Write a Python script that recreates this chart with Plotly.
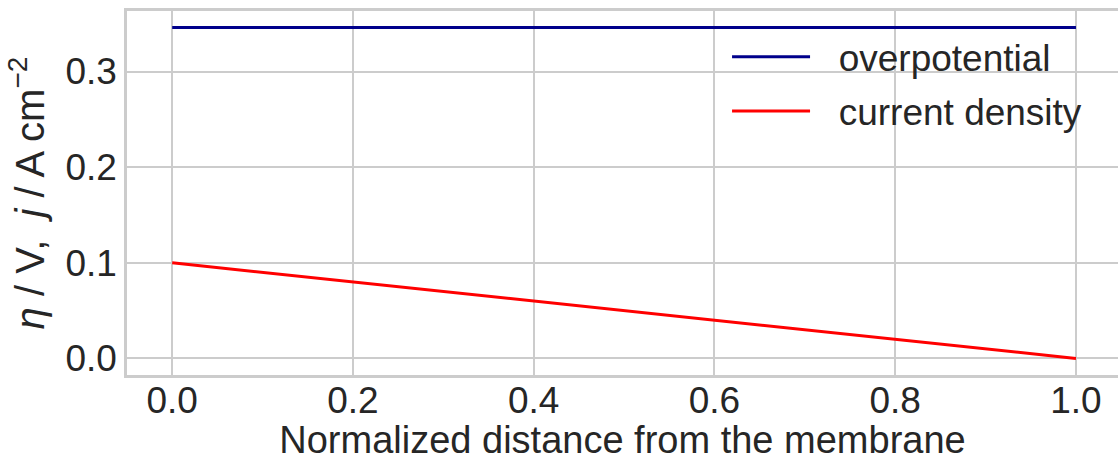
import plotly.graph_objects as go

# Normalized position across the catalyst layer
distance = [0.0, 1.0]
overpotential = [0.346, 0.346]      # V
current_density = [0.1, 0.0]        # A cm^-2

x_ticks = [0.0, 0.2, 0.4, 0.6, 0.8, 1.0]
y_ticks = [0.0, 0.1, 0.2, 0.3]

FONT = "Liberation Sans, Arial, sans-serif"
TEXT = "#262626"
GRID = "#cccccc"
PAD = "\u00a0\u00a0\u200a"   # gap between legend line sample and label

fig = go.Figure()
fig.add_trace(go.Scatter(x=distance, y=overpotential, mode="lines",
                         name=PAD + "overpotential", legendgroup="eta",
                         line=dict(color="#00008b", width=3)))
fig.add_trace(go.Scatter(x=distance, y=current_density, mode="lines",
                         name=PAD + "current density", legendgroup="j",
                         line=dict(color="#ff0000", width=3)))

fig.update_layout(
    width=1118, height=461,
    margin=dict(l=127, r=0, t=11, b=86),
    paper_bgcolor="white", plot_bgcolor="white",
    font=dict(family=FONT, size=37, color=TEXT),
    showlegend=True,
    legend=dict(x=0.6055, y=0.958, xanchor="left", yanchor="top",
                bgcolor="rgba(0,0,0,0)", font=dict(size=37, color=TEXT),
                itemwidth=78, tracegroupgap=3, traceorder="grouped"),
)
fig.update_xaxes(
    range=[-0.05, 1.0465], automargin=False,
    tickvals=x_ticks, tickformat=".1f",
    showgrid=True, gridcolor=GRID, gridwidth=2,
    zeroline=False,
    showline=True, linecolor=GRID, linewidth=2.5, mirror=True,
    ticks="", ticklen=0, ticklabelstandoff=-9,
    title=dict(text="Normalized distance from the membrane",
               font=dict(size=38, color=TEXT), standoff=5),
    tickfont=dict(size=37, color=TEXT),
)
fig.update_yaxes(
    range=[-0.0173, 0.3633], automargin=False,
    tickvals=y_ticks, tickformat=".1f",
    showgrid=True, gridcolor=GRID, gridwidth=2,
    zeroline=False,
    showline=True, linecolor=GRID, linewidth=2.5, mirror=False,
    ticks="", ticklen=0,
    title=dict(text="<i>η</i> / V,  <i>j</i> / A cm<sup>−2</sup>",
               font=dict(size=40, color=TEXT), standoff=9),
    tickfont=dict(size=37, color=TEXT),
)

fig.write_html("out.html")
